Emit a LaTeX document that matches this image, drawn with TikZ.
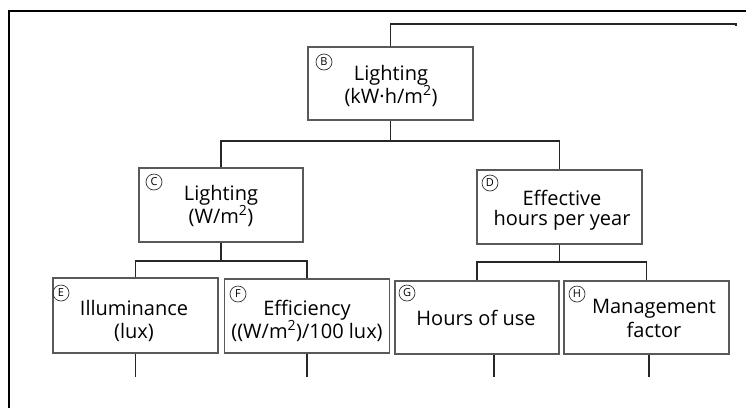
\documentclass[tikz,border=0pt]{standalone}
\usepackage{fontspec}
\setmainfont{Open Sans}
\begin{document}
\begin{tikzpicture}[x=1pt,y=-1pt,
  box/.style={draw=black!65,line width=1.1pt,rectangle,inner sep=0pt},
  txt/.style={align=center,inner sep=0pt,anchor=base,text=black,
    font=\fontsize{20}{#1}\selectfont},
  txt/.default=22,
  tag/.style={draw=black!80,circle,line width=0.7pt,inner sep=0pt,minimum size=16pt,
    font=\fontsize{11}{12}\selectfont},
  conn/.style={draw=black!85,line width=1.3pt},
  frame/.style={draw=black,line width=1.6pt}]
\useasboundingbox (0,0) rectangle (746,408);
% frame
\coordinate (f1) at (9,408);
\coordinate (f2) at (9,11);
\coordinate (f3) at (746,11);
\draw[frame] (f1) -- (f2) -- (f3);
% boxes
\node[box,minimum width=165pt,minimum height=73pt] (B) at (390.5,83.5) {};
\node[box,minimum width=164pt,minimum height=74pt] (C) at (221,205) {};
\node[box,minimum width=165pt,minimum height=74pt] (D) at (559.5,207) {};
\node[box,minimum width=165pt,minimum height=75pt] (E) at (135.5,315.5) {};
\node[box,minimum width=165pt,minimum height=74pt] (F) at (307,316) {};
\node[box,minimum width=164pt,minimum height=73pt] (G) at (477,317.5) {};
\node[box,minimum width=165pt,minimum height=73pt] (H) at (646.5,317.5) {};
% texts (anchor = baseline of the last line)
\node[txt=21.5] (Bt) at (391,103.5) {Lighting\\(kW·h/m\textsuperscript{2})};
\node[txt=20.5] (Ct) at (221,223.5) {Lighting\\(W/m\textsuperscript{2})};
\node[txt=20.5] (Dt) at (562,225.5) {Effective\\hours per year};
\node[txt=23] (Et) at (134,338) {Illuminance\\(lux)};
\node[txt=23] (Ft) at (307,338) {Efficiency\\((W/m\textsuperscript{2})/100 lux)};
\node[txt] (Gt) at (476,325) {Hours of use};
\node[txt=24] (Ht) at (654,337) {Management\\factor};
% tags
\node[tag] (tB) at (324,62) {B};
\node[tag] (tC) at (154,182) {C};
\node[tag] (tD) at (490,183) {D};
\node[tag] (tE) at (61,293) {E};
\node[tag] (tF) at (238,294) {F};
\node[tag] (tG) at (407,293) {G};
\node[tag] (tH) at (577,294) {H};
% connectors
\coordinate (top) at (736,26);
\draw[conn] (B.north) |- (736,24) -- (top);
\coordinate (j1) at (390.5,141);
\draw[conn] (B.south) -- (j1);
\draw[conn] (C.north) |- (j1) -| (D.north);
\coordinate (j2) at (221,261);
\draw[conn] (C.south) -- (j2);
\draw[conn] (E.north) |- (j2) -| (F.north);
\coordinate (j3) at (559.5,262);
\draw[conn] (D.south) -- (j3);
\draw[conn] (G.north) |- (j3) -| (H.north);
\coordinate (eE) at (135.5,377);
\coordinate (eF) at (307,377);
\coordinate (eG) at (494,377);
\coordinate (eH) at (649,377);
\draw[conn] (E.south) -- (eE);
\draw[conn] (F.south) -- (eF);
\draw[conn] (G.south -| eG) -- (eG);
\draw[conn] (H.south -| eH) -- (eH);
\end{tikzpicture}
\end{document}
